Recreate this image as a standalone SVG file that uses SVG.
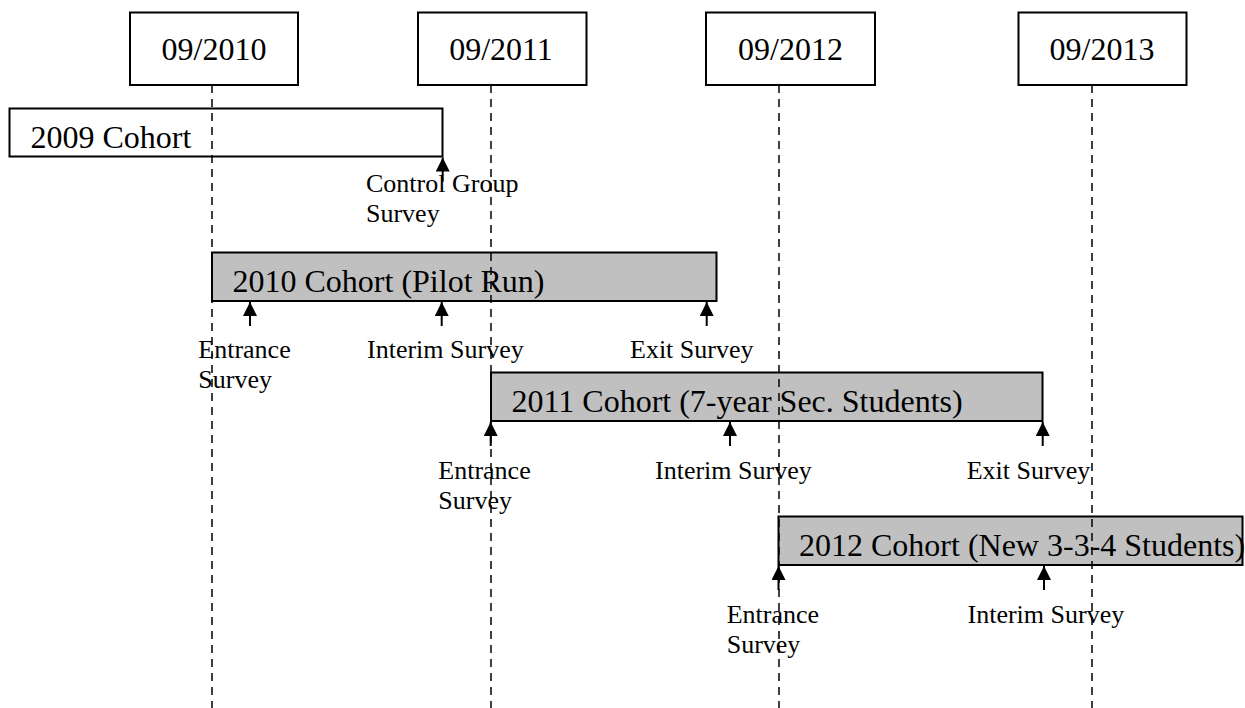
<svg xmlns="http://www.w3.org/2000/svg" width="1245" height="708" viewBox="0 0 1245 708">
  <style>
    .date { fill: #ffffff; stroke: #000000; stroke-width: 2; }
    .cohort { fill: #c0c0c0; stroke: #000000; stroke-width: 2; }
    .cohort-white { fill: #ffffff; stroke: #000000; stroke-width: 2; }
    .big { font-family: "Liberation Serif", "Times New Roman", serif; font-size: 32px; fill: #000000; }
    .small { font-family: "Liberation Serif", "Times New Roman", serif; font-size: 26px; fill: #000000; }
    .dash { stroke: #000000; stroke-width: 1.5; stroke-dasharray: 8 6; fill: none; }
    .arrow { stroke: #000000; stroke-width: 2; fill: none; marker-end: url(#head); }
  </style>
  <defs>
    <marker id="head" markerUnits="userSpaceOnUse" markerWidth="14" markerHeight="14" refX="14" refY="7" orient="auto">
      <path d="M0,0 L14,7 L0,14 Z" fill="#000000"/>
    </marker>
  </defs>

  <g id="date-2010">
    <rect class="date" x="130" y="12.5" width="168" height="72.5"/>
    <text class="big" x="214" y="59.5" text-anchor="middle">09/2010</text>
  </g>
  <g id="date-2011">
    <rect class="date" x="418" y="12.5" width="168.5" height="72.5"/>
    <text class="big" x="501" y="59.5" text-anchor="middle">09/2011</text>
  </g>
  <g id="date-2012">
    <rect class="date" x="706" y="12.5" width="169" height="72.5"/>
    <text class="big" x="790.5" y="59.5" text-anchor="middle">09/2012</text>
  </g>
  <g id="date-2013">
    <rect class="date" x="1018.5" y="12.5" width="168" height="72.5"/>
    <text class="big" x="1102" y="59.5" text-anchor="middle">09/2013</text>
  </g>

  <g id="cohort-2009">
    <rect class="cohort-white" x="9.5" y="108.5" width="433" height="48"/>
    <text class="big" x="30.5" y="148.3">2009 Cohort</text>
  </g>
  <g id="cohort-2010">
    <rect class="cohort" x="212" y="252.5" width="504.5" height="48.5"/>
    <text class="big" x="232.5" y="291.7">2010 Cohort (Pilot Run)</text>
  </g>
  <g id="cohort-2011">
    <rect class="cohort" x="491" y="372.5" width="551.5" height="48.5"/>
    <text class="big" x="511.5" y="411.7">2011 Cohort (7-year Sec. Students)</text>
  </g>
  <g id="cohort-2012">
    <rect class="cohort" x="778.5" y="516.5" width="464" height="48.5"/>
    <text class="big" x="799" y="556">2012 Cohort (New 3-3-4 Students)</text>
  </g>

  <g id="label-2009-control">
    <text class="small" x="366" y="191.7">Control Group</text>
    <text class="small" x="366" y="221.7">Survey</text>
  </g>
  <g id="label-2010-entrance">
    <text class="small" x="198.3" y="358.3">Entrance</text>
    <text class="small" x="198.3" y="388.3">Survey</text>
  </g>
  <g id="label-2010-interim">
    <text class="small" x="367" y="358.3">Interim Survey</text>
  </g>
  <g id="label-2010-exit">
    <text class="small" x="630" y="358.3">Exit Survey</text>
  </g>
  <g id="label-2011-entrance">
    <text class="small" x="438.3" y="478.5">Entrance</text>
    <text class="small" x="438.3" y="508.5">Survey</text>
  </g>
  <g id="label-2011-interim">
    <text class="small" x="655" y="478.5">Interim Survey</text>
  </g>
  <g id="label-2011-exit">
    <text class="small" x="966.7" y="478.5">Exit Survey</text>
  </g>
  <g id="label-2012-entrance">
    <text class="small" x="726.7" y="623">Entrance</text>
    <text class="small" x="726.7" y="653">Survey</text>
  </g>
  <g id="label-2012-interim">
    <text class="small" x="967.5" y="623">Interim Survey</text>
  </g>

  <g id="connectors">
    <line class="dash" x1="212" y1="85" x2="212" y2="708"/>
    <line class="dash" x1="491" y1="85" x2="491" y2="708"/>
    <line class="dash" x1="779" y1="85" x2="779" y2="708"/>
    <line class="dash" x1="1092" y1="85" x2="1092" y2="708"/>

    <line class="arrow" x1="442.7" y1="181.7" x2="442.7" y2="157.5"/>

    <line class="arrow" x1="250" y1="326" x2="250" y2="302"/>
    <line class="arrow" x1="441.7" y1="326" x2="441.7" y2="302"/>
    <line class="arrow" x1="706.7" y1="326" x2="706.7" y2="302"/>

    <line class="arrow" x1="490.7" y1="446" x2="490.7" y2="422"/>
    <line class="arrow" x1="730" y1="446" x2="730" y2="422"/>
    <line class="arrow" x1="1042.7" y1="446" x2="1042.7" y2="422"/>

    <line class="arrow" x1="778.5" y1="590" x2="778.5" y2="566"/>
    <line class="arrow" x1="1044" y1="590" x2="1044" y2="566"/>
  </g>
</svg>
